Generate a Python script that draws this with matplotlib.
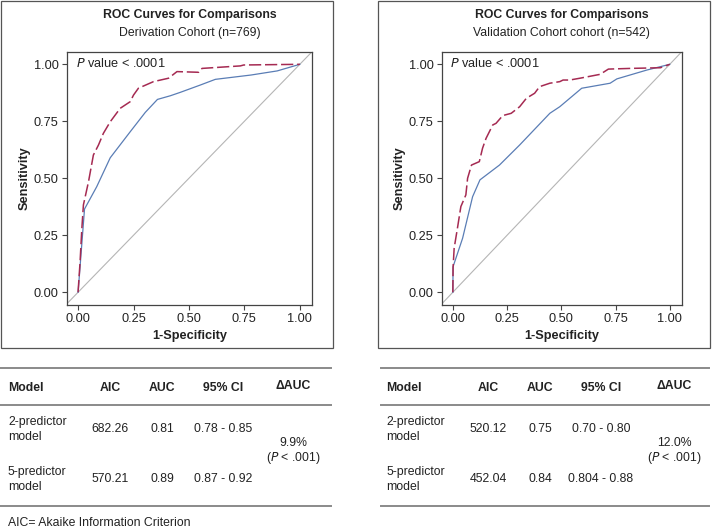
import matplotlib
matplotlib.use("Agg")
import matplotlib.pyplot as plt
from matplotlib.lines import Line2D
from matplotlib.patches import Rectangle

plt.rcParams['font.family'] = ['Liberation Sans', 'DejaVu Sans']

# ---------------- data ----------------
# Derivation cohort
der_fpr_2 = [0.0, 0.029, 0.084, 0.145, 0.235, 0.303, 0.358, 0.416, 0.461, 0.551, 0.619, 0.78, 0.898, 1.0]
der_tpr_2 = [0.0, 0.365, 0.463, 0.59, 0.704, 0.789, 0.846, 0.862, 0.877, 0.909, 0.934, 0.953, 0.971, 1.0]
der_fpr_5 = [0.0, 0.009, 0.017, 0.024, 0.047, 0.069, 0.092, 0.114, 0.145, 0.19, 0.235, 0.25, 0.272,
             0.34, 0.408, 0.446, 0.544, 0.559, 0.732, 0.747, 1.0]
der_tpr_5 = [0.0, 0.134, 0.28, 0.383, 0.485, 0.602, 0.646, 0.697, 0.748, 0.807, 0.836, 0.865, 0.895,
             0.924, 0.939, 0.968, 0.965, 0.982, 0.993, 0.997, 1.0]
# Validation cohort
val_fpr_2 = [0.0, 0.001, 0.045, 0.091, 0.125, 0.215, 0.308, 0.447, 0.493, 0.594, 0.725, 0.756, 0.895, 1.0]
val_tpr_2 = [0.0, 0.112, 0.237, 0.419, 0.493, 0.558, 0.646, 0.785, 0.814, 0.895, 0.917, 0.936, 0.975, 1.0]
val_fpr_5 = [0.0, 0.001, 0.006, 0.021, 0.037, 0.06, 0.068, 0.086, 0.122, 0.137, 0.153, 0.184, 0.199,
             0.23, 0.269, 0.308, 0.339, 0.377, 0.4, 0.447, 0.493, 0.508, 0.539, 0.586, 0.679, 0.717,
             0.818, 0.957, 1.0]
val_tpr_5 = [0.0, 0.107, 0.193, 0.28, 0.376, 0.427, 0.5, 0.558, 0.573, 0.632, 0.675, 0.734, 0.741,
             0.775, 0.785, 0.814, 0.851, 0.873, 0.902, 0.917, 0.924, 0.931, 0.931, 0.939, 0.956, 0.979,
             0.982, 0.985, 1.0]

tick_vals = [0.0, 0.25, 0.5, 0.75, 1.0]
tick_labels = ["0.00", "0.25", "0.50", "0.75", "1.00"]

titles = ["ROC Curves for Comparisons", "ROC Curves for Comparisons"]
subtitles = ["Derivation Cohort (n=769)", "Validation Cohort cohort (n=542)"]

table_header = ["Model", "AIC", "AUC", "95% CI", "\u0394AUC"]
models = ["2-predictor\nmodel", "5-predictor\nmodel"]
der_aic = ["682.26", "570.21"]
der_auc = ["0.81", "0.89"]
der_ci = ["0.78 - 0.85", "0.87 - 0.92"]
der_delta = "9.9%"
val_aic = ["520.12", "452.04"]
val_auc = ["0.75", "0.84"]
val_ci = ["0.70 - 0.80", "0.804 - 0.88"]
val_delta = "12.0%"
footnote = "AIC= Akaike Information Criterion"

# ---------------- figure ----------------
W, H = 712, 531
fig = plt.figure(figsize=(W / 100, H / 100), dpi=100)


def fx(px):
    return px / W


def fy(py):
    return 1 - py / H


RED = "#a52a52"
BLUE = "#5a7db5"
GREY = "#b5b5b5"
SPINE = "#444444"
TXT = "#222222"

# outer boxes
for (x0, x1) in [(0.5, 333), (378, 710)]:
    fig.patches.append(Rectangle((fx(x0), fy(348)), fx(x1) - fx(x0), fy(0.5) - fy(348),
                                 transform=fig.transFigure, fill=False,
                                 edgecolor="#555555", linewidth=0.9))

axes_specs = [
    (67, 312, der_fpr_2, der_tpr_2, der_fpr_5, der_tpr_5),
    (442, 681.7, val_fpr_2, val_tpr_2, val_fpr_5, val_tpr_5),
]

for i, (l, r, f2, t2, f5, t5) in enumerate(axes_specs):
    ax = fig.add_axes([fx(l), fy(305), fx(r) - fx(l), fy(52) - fy(305)])
    ax.set_xlim(-0.05, 1.055)
    ax.set_ylim(-0.056, 1.054)
    ax.axline((0, 0), slope=1, color=GREY, linewidth=0.8, zorder=1)
    ax.plot(f2, t2, color=BLUE, linewidth=0.9, zorder=2)
    ax.plot(f5, t5, color=RED, linewidth=1.1, dashes=(8, 2.5), zorder=3)
    ax.set_xticks(tick_vals)
    ax.set_xticklabels(tick_labels)
    ax.set_yticks(tick_vals)
    ax.set_yticklabels(tick_labels)
    ax.tick_params(direction="out", length=3.5, width=0.8, color=SPINE,
                   labelsize=9.2, labelcolor=TXT, pad=2.5)
    for s in ax.spines.values():
        s.set_color(SPINE)
        s.set_linewidth(0.9)
    ax.set_xlabel("1-Specificity", fontsize=9.2, fontweight="bold", color=TXT, labelpad=3)
    ax.set_ylabel("Sensitivity", fontsize=9.2, fontweight="bold", color=TXT, labelpad=2)
    ax.text(0.035, 0.955, r"$\mathit{P}$ value < .0001", transform=ax.transAxes,
            fontsize=9.2, color=TXT, va="center", ha="left")
    cx = (l + r) / 2
    fig.text(fx(cx), fy(15), titles[i], ha="center", va="center", fontsize=8.8,
             fontweight="bold", color=TXT)
    fig.text(fx(cx), fy(33), subtitles[i], ha="center", va="center", fontsize=8.8, color=TXT)

# ---------------- tables ----------------
LINE_C = "#8a8a8a"


def hline(x0, x1, y, lw=1.4):
    fig.add_artist(Line2D([fx(x0), fx(x1)], [fy(y), fy(y)], transform=fig.transFigure,
                          color=LINE_C, linewidth=lw))


tables = [
    (0, 331, 8, [110, 162, 223, 293], der_aic, der_auc, der_ci, der_delta),
    (381, 709, 386, [488, 540, 601, 674], val_aic, val_auc, val_ci, val_delta),
]

FS = 8.8
for (x0, x1, mx, cols, aic, auc, ci, delta) in tables:
    hline(x0, x1, 368)
    hline(x0, x1, 405)
    hline(x0, x1, 506)
    fig.text(fx(mx), fy(388), table_header[0], ha="left", va="center", fontsize=FS,
             fontweight="bold", color=TXT)
    for c, h in zip(cols[:3], table_header[1:4]):
        fig.text(fx(c), fy(388), h, ha="center", va="center", fontsize=FS,
                 fontweight="bold", color=TXT)
    fig.text(fx(cols[3]), fy(386), table_header[4], ha="center", va="center", fontsize=FS,
             fontweight="bold", color=TXT)
    for k, yrow in enumerate([429.5, 479.5]):
        fig.text(fx(mx), fy(yrow), models[k], ha="left", va="center", fontsize=FS,
                 color=TXT, linespacing=1.35)
        fig.text(fx(cols[0]), fy(yrow), aic[k], ha="center", va="center", fontsize=FS, color=TXT)
        fig.text(fx(cols[1]), fy(yrow), auc[k], ha="center", va="center", fontsize=FS, color=TXT)
        fig.text(fx(cols[2]), fy(yrow), ci[k], ha="center", va="center", fontsize=FS, color=TXT)
    fig.text(fx(cols[3]), fy(443), delta, ha="center", va="center", fontsize=FS, color=TXT)
    fig.text(fx(cols[3]), fy(458), r"($\mathit{P}$ < .001)", ha="center", va="center",
             fontsize=FS, color=TXT)

fig.text(fx(8), fy(523), footnote, ha="left", va="center", fontsize=FS, color=TXT)

fig.savefig("out.png", dpi=100)
